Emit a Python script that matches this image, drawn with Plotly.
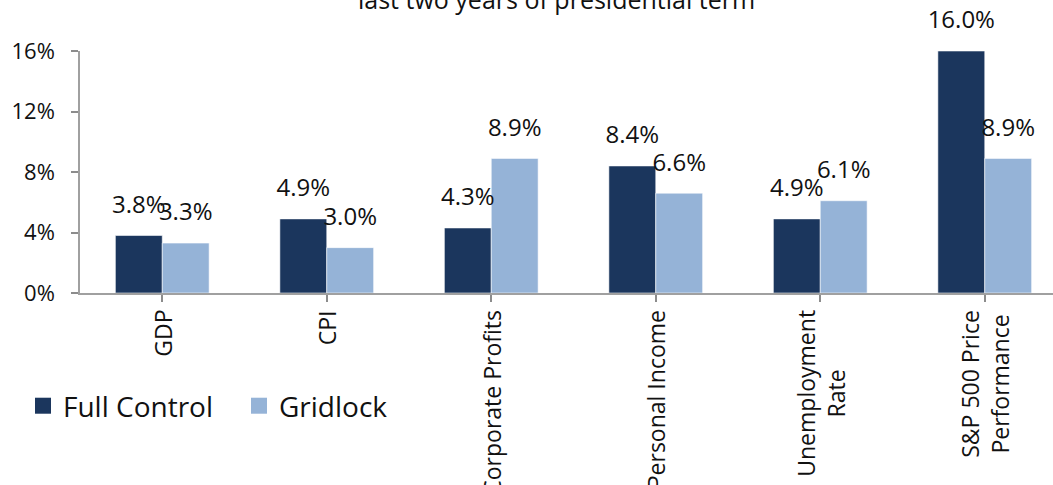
import plotly.graph_objects as go

categories = ["GDP", "CPI", "Corporate Profits", "Personal Income",
              "Unemployment<br>Rate", "S&P 500 Price<br>Performance"]
full_control = [3.8, 4.9, 4.3, 8.4, 4.9, 16.0]
gridlock = [3.3, 3.0, 8.9, 6.6, 6.1, 8.9]
series_names = ["Full Control", "Gridlock"]
colors = ["#1B365D", "#95B3D7"]
title_text = "last two years of presidential term"
ytick_vals = [0, 4, 8, 12, 16]
ytick_text = ["0%", "4%", "8%", "12%", "16%"]

FONT = "Open Sans"
x_idx = list(range(len(categories)))
GAP = 0.43

fig = go.Figure()
for name, vals, col, og in zip(series_names, [full_control, gridlock], colors, ["a", "b"]):
    fig.add_trace(go.Bar(x=x_idx, y=vals, name=name, marker_color=col,
                         marker_line=dict(color="rgba(255,255,255,0.7)", width=0.8),
                         showlegend=False, hoverinfo="skip", offsetgroup=og))
# data labels (scatter text grouped like bars)
for name, vals, og in zip(series_names, [full_control, gridlock], ["a", "b"]):
    fig.add_trace(go.Scatter(x=x_idx, y=vals, mode="markers+text",
                             marker=dict(size=25, color="rgba(0,0,0,0)"),
                             texttemplate="%{y:.1f}%", textposition="top center",
                             textfont=dict(family=FONT, size=24, color="#111111"),
                             cliponaxis=False,
                             showlegend=False, hoverinfo="skip", offsetgroup=og))
# legend proxies
for name, col, og in zip(series_names, colors, ["a", "b"]):
    fig.add_trace(go.Scatter(x=[None], y=[None], mode="markers", name=name,
                             marker=dict(symbol="square", size=16, color=col),
                             offsetgroup=og, hoverinfo="skip"))

annotations = []
for i, c in enumerate(categories):
    annotations.append(dict(x=i, y=0, xref="x", yref="y", text=c, showarrow=False,
                            textangle=-90, xanchor="center", yanchor="top", yshift=-15,
                            align="center", font=dict(family=FONT, size=23, color="#111111")))
annotations.append(dict(x=0.49, y=1, xref="paper", yref="paper", text=title_text,
                        showarrow=False, xanchor="center", yanchor="bottom", yshift=33,
                        font=dict(family=FONT, size=25, color="#111111")))

fig.update_layout(
    width=1053, height=485,
    margin=dict(l=80, r=0, t=51, b=192, pad=0),
    plot_bgcolor="white", paper_bgcolor="white",
    barmode="group", bargap=GAP, bargroupgap=0,
    scattermode="group", scattergap=GAP,
    font=dict(family=FONT, color="#111111"),
    xaxis=dict(range=[-0.5, -0.5 + 973 / 164.5], tickmode="array", tickvals=x_idx,
               showticklabels=False, ticks="outside", tickson="boundaries",
               ticklen=7, tickcolor="#8c8c8c", tickwidth=1.5,
               showline=True, linecolor="#a0a0a0", linewidth=1.5, showgrid=False,
               zeroline=False, fixedrange=True),
    yaxis=dict(range=[0, 16], tickmode="array", tickvals=ytick_vals, ticktext=ytick_text,
               ticks="outside",
               ticklen=7, tickcolor="#8c8c8c", tickwidth=1.5, showline=True,
               linecolor="#a0a0a0", linewidth=1.5, showgrid=False, zeroline=False,
               ticklabelstandoff=12, tickfont=dict(family=FONT, size=22, color="#111111")),
    legend=dict(orientation="h", x=-0.0586, xanchor="left", y=-0.467, yanchor="middle",
                font=dict(family=FONT, size=28, color="#111111"), entrywidth=171,
                bgcolor="rgba(0,0,0,0)"),
    annotations=annotations,
    showlegend=True,
)

fig.write_html("out.html")
